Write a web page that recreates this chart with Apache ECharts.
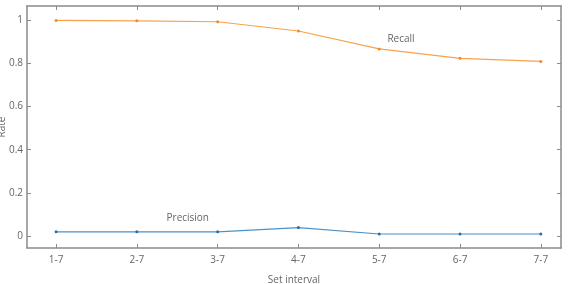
<!DOCTYPE html>
<html>
<head>
<meta charset="utf-8">
<script src="https://cdn.jsdelivr.net/npm/echarts@6/dist/echarts.min.js"></script>
<style>
    html, body { margin: 0; padding: 0; background: #fff; }
    #chart { width: 575px; height: 284px; }
</style>
</head>
<body>
<div id="chart"></div>
<script>
// 数据
var categories = ["1-7", "2-7", "3-7", "4-7", "5-7", "6-7", "7-7"];
var recall = [1.0, 0.998, 0.994, 0.951, 0.868, 0.824, 0.81];
var precision = [0.019, 0.019, 0.019, 0.039, 0.009, 0.009, 0.009];
var yTicks = [0, 0.2, 0.4, 0.6, 0.8, 1];

(function() {
    var myChart = echarts.init(document.getElementById("chart"));

    var font = "'Open Sans', sans-serif";
    var axisColor = "#8a8a8a";
    var textColor = "#666";
    var xIdx = categories.map(function(c, i) { return i; });

    function pairs(arr) {
        return arr.map(function(v, i) { return [i, v]; });
    }

    var tickX = { show: true, inside: true, length: 4, lineStyle: { color: axisColor }, customValues: xIdx };
    var tickY = { show: true, inside: true, length: 4, lineStyle: { color: axisColor }, customValues: yTicks };
    var lineStyle = { show: true, onZero: false, lineStyle: { color: axisColor, width: 1.5 } };

    var option = {
        animation: false,
        grid: {
            left: 27,
            right: 14,
            top: 6,
            bottom: 36,
            containLabel: false,
            outerBoundsMode: 'none'
        },
        xAxis: [{
            type: 'value',
            min: -0.36,
            max: 6.25,
            position: 'bottom',
            name: 'Set interval',
            nameLocation: 'middle',
            nameGap: 27,
            nameMoveOverlap: false,
            nameTextStyle: { color: textColor, fontFamily: font, fontSize: 10 },
            axisLine: lineStyle,
            axisTick: tickX,
            splitLine: { show: false },
            axisLabel: {
                color: textColor,
                fontFamily: font,
                fontSize: 10,
                margin: 7,
                customValues: xIdx,
                formatter: function(v) { return categories[Math.round(v)]; }
            }
        }, {
            type: 'value',
            min: -0.36,
            max: 6.25,
            position: 'top',
            axisLine: lineStyle,
            axisTick: tickX,
            splitLine: { show: false },
            axisLabel: { show: false }
        }],
        yAxis: [{
            type: 'value',
            min: -0.056,
            max: 1.067,
            position: 'left',
            name: 'Rate',
            nameLocation: 'middle',
            nameGap: 20,
            nameMoveOverlap: false,
            nameTextStyle: { color: textColor, fontFamily: font, fontSize: 10 },
            axisLine: lineStyle,
            axisTick: tickY,
            splitLine: { show: false },
            axisLabel: {
                color: textColor,
                fontFamily: font,
                fontSize: 10,
                margin: 4,
                customValues: yTicks,
                formatter: function(v) { return String(Math.round(v * 10) / 10); }
            }
        }, {
            type: 'value',
            min: -0.056,
            max: 1.067,
            position: 'right',
            axisLine: lineStyle,
            axisTick: tickY,
            splitLine: { show: false },
            axisLabel: { show: false }
        }],
        series: [{
            name: 'Recall',
            type: 'line',
            data: pairs(recall),
            symbol: 'circle',
            symbolSize: 3,
            lineStyle: { color: '#f7a24b', width: 1.2 },
            itemStyle: { color: '#f28a2a' },
            markPoint: {
                symbol: 'circle',
                symbolSize: 0,
                data: [{ coord: [4.27, 0.914] }],
                label: {
                    show: true,
                    formatter: 'Recall',
                    color: textColor,
                    fontFamily: font,
                    fontSize: 10
                }
            }
        }, {
            name: 'Precision',
            type: 'line',
            data: pairs(precision),
            symbol: 'circle',
            symbolSize: 3,
            lineStyle: { color: '#4a92c8', width: 1.2 },
            itemStyle: { color: '#2a6fa8' },
            markPoint: {
                symbol: 'circle',
                symbolSize: 0,
                data: [{ coord: [1.63, 0.084] }],
                label: {
                    show: true,
                    formatter: 'Precision',
                    color: textColor,
                    fontFamily: font,
                    fontSize: 10
                }
            }
        }]
    };

    myChart.setOption(option);
})();
</script>
</body>
</html>
